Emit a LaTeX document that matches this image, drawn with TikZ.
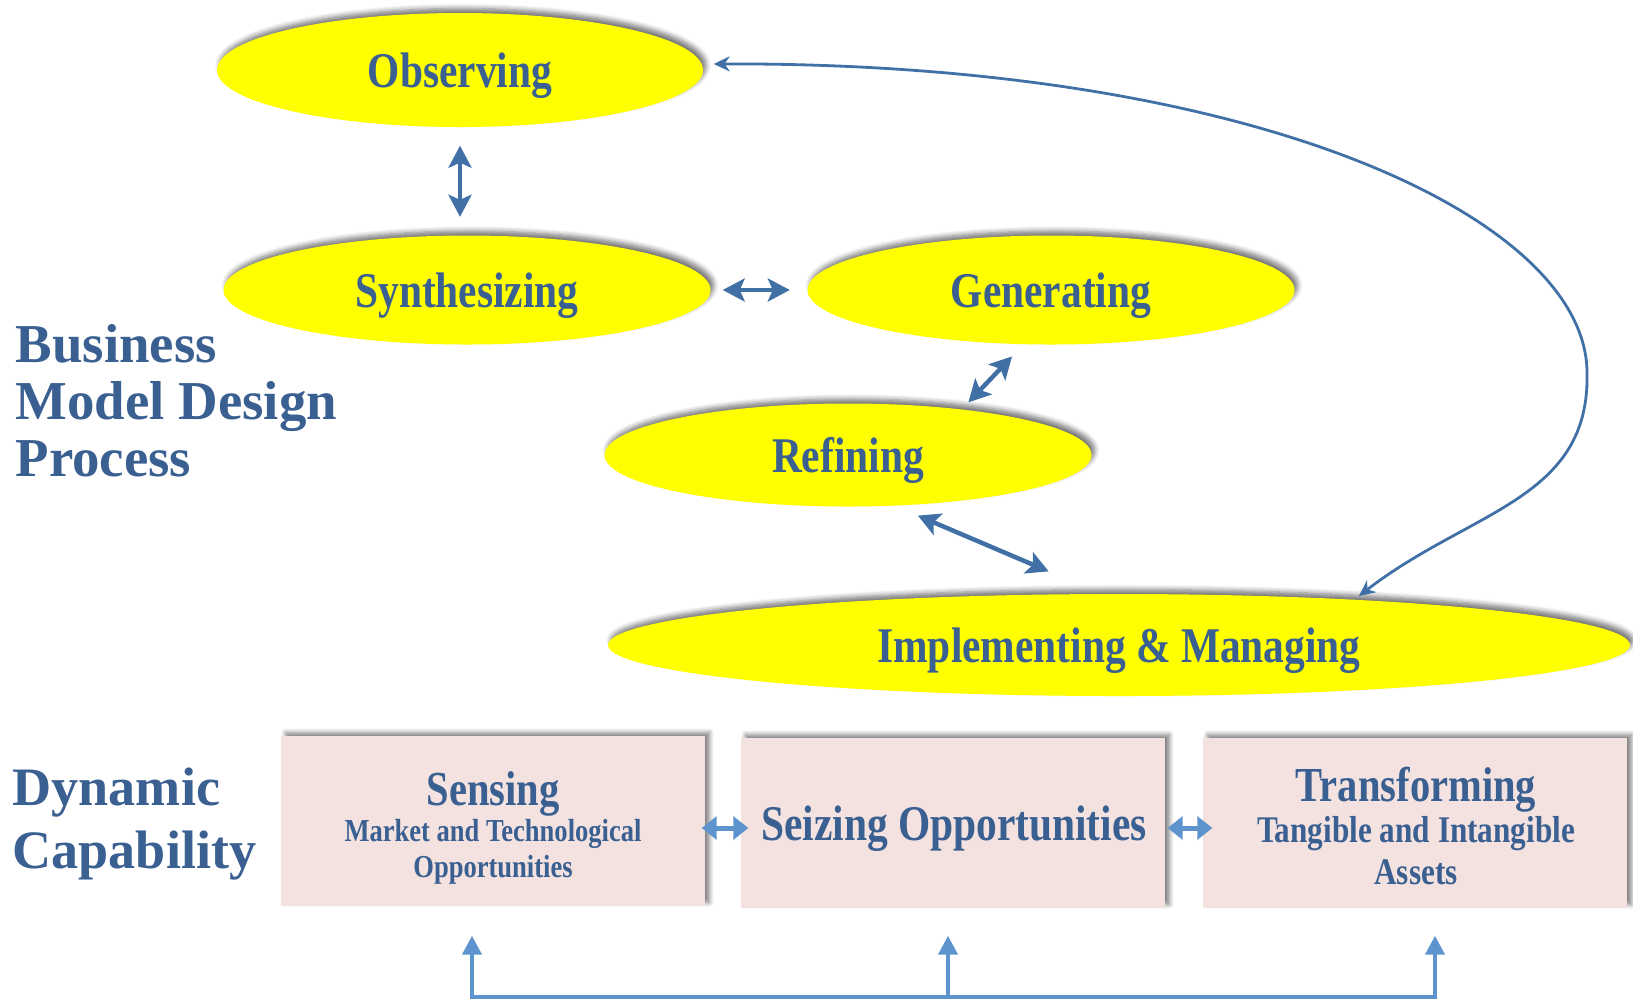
\documentclass[tikz,border=0pt]{standalone}
\usepackage{fontspec}
\setmainfont{Liberation Serif}
\newfontfamily\narrowserif[FakeStretch=0.83]{Liberation Serif}
\usetikzlibrary{arrows.meta,shapes.geometric,shadows.blur}

\definecolor{titleblue}{RGB}{58,95,145}
\definecolor{linkblue}{RGB}{64,112,166}
\definecolor{paleblue}{RGB}{94,148,206}
\definecolor{stagefill}{RGB}{255,255,0}
\definecolor{boxpink}{RGB}{243,226,224}

\tikzset{
    stage/.style={ellipse, fill=stagefill, inner sep=0pt, text=titleblue,
        font=\narrowserif\bfseries\fontsize{14.2}{17}\selectfont,
        text height=10pt, text depth=0pt,
        blur shadow={shadow xshift=0.3mm, shadow yshift=0.45mm,
            shadow blur radius=0.5mm, shadow blur steps=6, shadow opacity=55}},
    capbox/.style={rectangle, fill=boxpink, inner sep=0pt,
        minimum width=42.4mm, minimum height=17mm,
        blur shadow={shadow xshift=0.45mm, shadow yshift=0.35mm,
            shadow blur radius=0.45mm, shadow blur steps=6, shadow opacity=50}},
    capword/.style={text=titleblue, inner sep=0pt, anchor=base,
        font=\narrowserif\bfseries\fontsize{13.9}{16}\selectfont},
    capnote/.style={text=titleblue, inner sep=0pt, anchor=base, align=center},
    sidetitle/.style={text=titleblue, inner sep=0pt, align=left, anchor=base west},
    twoway/.style={draw=linkblue, line width=0.45mm,
        {Stealth[length=2.2mm,width=2.3mm,inset=0.5mm]}-{Stealth[length=2.2mm,width=2.3mm,inset=0.5mm]}},
    loopback/.style={draw=linkblue, line width=0.28mm,
        {Stealth[length=1.6mm,width=1.5mm]}-{Stealth[length=1.6mm,width=1.5mm]}},
    swap/.style={draw=paleblue, line width=0.5mm,
        {Triangle[length=1.5mm,width=2.3mm]}-{Triangle[length=1.5mm,width=2.3mm]}},
    flowup/.style={draw=paleblue, line width=0.42mm, line join=miter,
        -{Triangle[length=1.9mm,width=1.9mm]}},
}

\begin{document}
\begin{tikzpicture}[x=0.1mm, y=-0.1mm]
    \useasboundingbox (0,0) rectangle (1633,1000);

    % Side titles (base = last line)
    \node[sidetitle, font=\bfseries\fontsize{15.6}{16.2}\selectfont] (bmdp) at (15,476)
        {Business\\Model Design\\Process};
    \node[sidetitle, font=\bfseries\fontsize{15.4}{17.9}\selectfont] (dyncap) at (12,868)
        {Dynamic\\Capability};

    % Design process stages
    \node[stage, minimum width=48.6mm, minimum height=11.4mm] (observe) at (460,70) {Observing};
    \node[stage, minimum width=48.7mm, minimum height=10.9mm] (synth) at (467,290) {Synthesizing};
    \node[stage, minimum width=48.7mm, minimum height=10.9mm] (gen) at (1051,290) {Generating};
    \node[stage, minimum width=48.7mm, minimum height=10.3mm] (ref) at (848,455) {Refining};
    \node[stage, minimum width=102.2mm, minimum height=10.2mm] (impl) at (1119,645) {Implementing \& Managing};

    % Links between stages
    \draw[twoway, shorten <=1.8mm, shorten >=1.8mm] (observe.south) -- (observe.south |- synth.north);
    \draw[twoway, shorten <=1.15mm, shorten >=1.7mm] (synth.east) -- (gen.west);
    \draw[twoway, shorten <=0.9mm, shorten >=1.6mm] (ref.22) -- (gen.243);
    \draw[twoway, shorten <=2.4mm, shorten >=5.6mm] (ref.313) -- (impl.110);

    % Loop back to the start
    \draw[loopback, shorten <=0.5mm, shorten >=1mm] (impl.11.5)
        .. controls (1470,510) and (1590,500) .. (1587,373)
        .. controls (1587,220) and (1260,62) .. ([yshift=0.6mm]observe.east);

    % Capability boxes
    \node[capbox] (sense) at (493,821) {};
    \node[capbox] (seize) at (953,823) {};
    \node[capbox] (trans) at (1415,823) {};

    \node[capword] (sensehead) at (493,805) {Sensing};
    \node[capnote, font=\narrowserif\bfseries\fontsize{9.1}{10}\selectfont] (sensenote) at (493,877)
        {Market and Technological\\Opportunities};
    \node[capword, font=\narrowserif\bfseries\fontsize{14.2}{16}\selectfont] (seizehead) at (954,840)
        {Seizing Opportunities};
    \node[capword] (transhead) at (1416,801) {Transforming};
    \node[capnote, font=\narrowserif\bfseries\fontsize{10.7}{11.7}\selectfont] (transnote) at (1416,884)
        {Tangible and Intangible\\Assets};

    \draw[swap, shorten <=-0.4mm, shorten >=-0.8mm] ([yshift=-0.7mm]sense.east) -- ([yshift=-0.7mm]sense.east -| seize.west);
    \draw[swap, shorten <=0.2mm, shorten >=-1mm] ([yshift=-0.5mm]seize.east) -- ([yshift=-0.5mm]seize.east -| trans.west);

    % Feedback rail under the boxes
    \coordinate (hub1) at (472,997);
    \coordinate (hub2) at (948,997);
    \coordinate (hub3) at (1435,997);
    \draw[flowup, shorten >=2.9mm] (hub2) -- (hub1) -- (hub1 |- sense.south);
    \draw[flowup, shorten >=2.7mm] (hub2) -- (hub3) -- (hub3 |- trans.south);
    \draw[flowup, shorten >=2.7mm] (hub2) -- (hub2 |- seize.south);
\end{tikzpicture}
\end{document}
